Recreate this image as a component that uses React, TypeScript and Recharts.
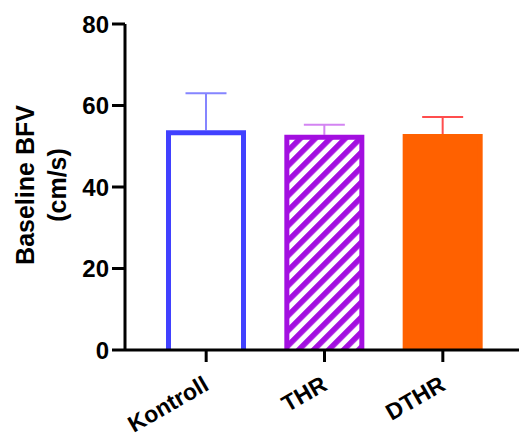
import { BarChart, Bar, XAxis, YAxis } from "recharts";

const groups = ["Kontroll", "THR", "DTHR"];
const meanBfv = [53.9, 52.8, 53.0];
const sdBfv = [9.1, 2.5, 4.2];
const yTicks = [0, 20, 40, 60, 80];

const barLook = [
  { fill: "#ffffff", stroke: "#4141ff", whisker: "#8585ff" },
  { fill: "url(#thrHatch)", stroke: "#a30fe0", whisker: "#d384f2" },
  { fill: "#ff6100", stroke: "#ff6100", whisker: "#ff4d4d" },
];

const data = groups.map((name, i) => ({
  name,
  mean: meanBfv[i],
  sd: sdBfv[i],
}));

const font = "Arial, 'Liberation Sans', sans-serif";

// bar + upward SD whisker, whisker length taken from the bar's own pixel scale
const BarWithSd = (props: any) => {
  const { x, y, width, height, index, payload } = props;
  const look = barLook[index];
  const sw = 5;
  const perUnit = height / payload.mean;
  const top = y - payload.sd * perUnit;
  const cx = x + width / 2;
  const l = x + sw / 2;
  const r = x + width - sw / 2;
  const t = y + sw / 2;
  const b = y + height;
  return (
    <g>
      <line x1={cx} x2={cx} y1={y} y2={top} stroke={look.whisker} strokeWidth={2} />
      <line
        x1={cx - 20.5}
        x2={cx + 20.5}
        y1={top}
        y2={top}
        stroke={look.whisker}
        strokeWidth={2}
      />
      <rect x={l} y={t} width={r - l} height={b - t} fill={look.fill} />
      <path
        d={`M${l},${b} L${l},${t} L${r},${t} L${r},${b}`}
        fill="none"
        stroke={look.stroke}
        strokeWidth={sw}
        strokeLinejoin="miter"
      />
    </g>
  );
};

const GroupTick = ({ x, y, payload }: any) => {
  const ay = y + 18;
  return (
    <text
      x={x}
      y={ay}
      dy="0.35em"
      textAnchor="end"
      transform={`rotate(-30 ${x} ${ay})`}
      fontFamily={font}
      fontWeight="bold"
      fontSize={23}
      fill="#000"
    >
      {payload.value}
    </text>
  );
};

const YTitle = () => (
  <g fontFamily={font} fontWeight="bold" fontSize={25} fill="#000">
    <text transform="translate(25,185) rotate(-90)" textAnchor="middle" dy="0.35em">
      Baseline BFV
    </text>
    <text transform="translate(57,185) rotate(-90)" textAnchor="middle" dy="0.35em">
      (cm/s)
    </text>
  </g>
);

export default function App() {
  return (
    <div style={{ position: "absolute", left: 0, top: 0, background: "#fff" }}>
      <BarChart
        width={521}
        height={444}
        data={data}
        margin={{ top: 24, right: 2, left: 0, bottom: 0 }}
      >
        <defs>
          <pattern
            id="thrHatch"
            patternUnits="userSpaceOnUse"
            width={10.6}
            height={10.6}
            patternTransform="rotate(45)"
          >
            <rect width={10.6} height={10.6} fill="#ffffff" />
            <rect width={5.6} height={10.6} fill="#a30fe0" />
          </pattern>
        </defs>
        <XAxis
          dataKey="name"
          height={94}
          padding={{ left: 22, right: 17 }}
          axisLine={{ stroke: "#000", strokeWidth: 3 }}
          tickLine={{ stroke: "#000", strokeWidth: 3 }}
          tickSize={12}
          tick={<GroupTick />}
          interval={0}
        />
        <YAxis
          width={125}
          domain={[0, 80]}
          ticks={yTicks}
          axisLine={{ stroke: "#000", strokeWidth: 3 }}
          tickLine={{ stroke: "#000", strokeWidth: 3 }}
          tickSize={13}
          tickMargin={3}
          tick={{ fill: "#000", fontSize: 24, fontWeight: "bold", fontFamily: font }}
          label={{ content: () => <YTitle /> }}
        />
        <Bar dataKey="mean" barSize={80} shape={BarWithSd} isAnimationActive={false} />
      </BarChart>
    </div>
  );
}
